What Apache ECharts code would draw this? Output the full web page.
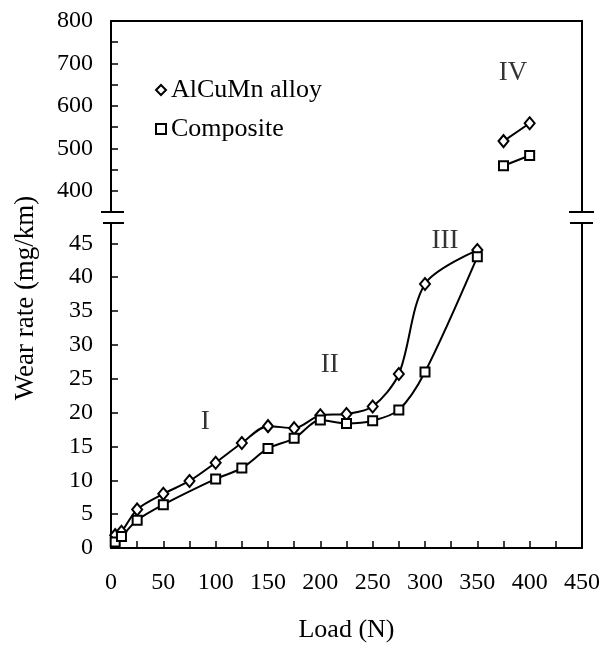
<!DOCTYPE html>
<html>
<head>
<meta charset="utf-8">
<script src="https://cdn.jsdelivr.net/npm/echarts@6/dist/echarts.min.js"></script>
<style>html,body{margin:0;padding:0;background:#fff}#c{width:614px;height:648px}</style>
</head>
<body>
<div id="c"></div>
<script>
// ---- data ----
var alloyLoads = [4, 10, 25, 50, 75, 100, 125, 150, 175, 200, 225, 250, 275, 300, 350];
var alloyWear  = [1.9, 2.4, 5.7, 8.0, 9.9, 12.6, 15.5, 18.0, 17.7, 19.6, 19.8, 20.9, 25.7, 39.0, 44.0];
var compLoads  = [4, 10, 25, 50, 100, 125, 150, 175, 200, 225, 250, 275, 300, 350];
var compWear   = [0.9, 1.7, 4.1, 6.4, 10.2, 11.8, 14.7, 16.2, 18.9, 18.4, 18.8, 20.4, 26.0, 43.0];
var highLoads  = [375, 400];
var alloyHigh  = [517, 559];
var compHigh   = [459, 483];
var seriesNames = ['AlCuMn alloy', 'Composite'];
var stageLabels = ['I', 'II', 'III'];
var stageX = [90, 209, 319];
var stageY = [18.6, 27.0, 45.3];
var stageHighLabels = ['IV'];
var stageHighX = [384];
var stageHighY = [677];

// ---- layout ----
var L = 111, R = 582, TOP = 21, BRK1 = 212, BRK2 = 223, BOT = 552;
var FONT = 'Liberation Serif';

function pairs(xs, ys) { return xs.map(function (x, i) { return [x, ys[i]]; }); }
function trio(xs, ys, ls) { return xs.map(function (x, i) { return [x, ys[i], ls[i]]; }); }

var chart = echarts.init(document.getElementById('c'), null, { renderer: 'canvas' });

var axisLine = { show: true, lineStyle: { color: '#000', width: 2 } };
var tickStyle = { show: true, inside: true, length: 7, lineStyle: { color: '#000', width: 1.5 } };
var labelBase = { color: '#000', fontFamily: FONT, fontSize: 24 };

var symStyle = { color: '#fff', borderColor: '#000', borderWidth: 2 };
var lineSt = { color: '#000', width: 2 };

function lineSeries(name, sym, size, x, y, data, smooth) {
  return {
    type: 'line', name: name, xAxisIndex: x, yAxisIndex: y, data: data,
    symbol: sym, symbolSize: size, showSymbol: true, smooth: smooth,
    itemStyle: symStyle, lineStyle: lineSt, z: 3, animation: false
  };
}

function textSeries(x, y, data) {
  return {
    type: 'scatter', xAxisIndex: x, yAxisIndex: y, data: data, symbolSize: 1,
    itemStyle: { color: 'rgba(0,0,0,0)' }, silent: true, animation: false,
    label: { show: true, position: 'inside', formatter: function (p) { return p.data[2]; },
             color: '#000', fontFamily: FONT, fontSize: 27 }
  };
}

var option = {
  backgroundColor: '#fff',
  animation: false,
  grid: [
    { left: L, width: R - L, top: TOP, height: BRK1 - TOP },
    { left: L, width: R - L, top: BRK2, height: BOT - BRK2 }
  ],
  xAxis: [
    { gridIndex: 0, type: 'value', position: 'top', min: 0, max: 450,
      axisLine: axisLine, axisTick: { show: false }, axisLabel: { show: false }, splitLine: { show: false } },
    { gridIndex: 1, type: 'value', position: 'bottom', min: 0, max: 450, interval: 25,
      axisLine: axisLine, axisTick: tickStyle, splitLine: { show: false },
      axisLabel: Object.assign({ margin: 23, formatter: function (v) { return v % 50 === 0 ? String(v) : ''; } }, labelBase),
      name: 'Load (N)', nameLocation: 'middle', nameGap: 69,
      nameTextStyle: { color: '#000', fontFamily: FONT, fontSize: 26 } }
  ],
  yAxis: [
    { gridIndex: 0, type: 'value', position: 'left', min: 350, max: 800, interval: 50,
      axisLine: axisLine, axisTick: tickStyle, splitLine: { show: false },
      axisLabel: Object.assign({ margin: 18, formatter: function (v) { return v % 100 === 0 ? String(v) : ''; } }, labelBase) },
    { gridIndex: 0, type: 'value', position: 'right', min: 350, max: 800,
      axisLine: axisLine, axisTick: { show: false }, axisLabel: { show: false }, splitLine: { show: false } },
    { gridIndex: 1, type: 'value', position: 'left', min: 0, max: 48, interval: 5,
      axisLine: axisLine, axisTick: tickStyle, splitLine: { show: false },
      axisLabel: Object.assign({ margin: 18, formatter: function (v) { return v % 5 === 0 ? String(v) : ''; } }, labelBase) },
    { gridIndex: 1, type: 'value', position: 'right', min: 0, max: 48,
      axisLine: axisLine, axisTick: { show: false }, axisLabel: { show: false }, splitLine: { show: false } }
  ],
  legend: {
    orient: 'vertical', left: 150, top: 72, itemGap: 13,
    itemWidth: 10, itemHeight: 10,
    textStyle: { color: '#000', fontFamily: FONT, fontSize: 26 },
    data: [
      { name: seriesNames[0], icon: 'diamond' },
      { name: seriesNames[1], icon: 'rect' }
    ]
  },
  series: [
    lineSeries(seriesNames[0], 'diamond', [10, 12], 1, 2, pairs(alloyLoads, alloyWear), 0.3),
    lineSeries(seriesNames[1], 'rect', 9, 1, 2, pairs(compLoads, compWear), 0.3),
    lineSeries(seriesNames[0], 'diamond', [10, 12], 0, 0, pairs(highLoads, alloyHigh), false),
    lineSeries(seriesNames[1], 'rect', 9, 0, 0, pairs(highLoads, compHigh), false),
    textSeries(1, 2, trio(stageX, stageY, stageLabels)),
    textSeries(0, 0, trio(stageHighX, stageHighY, stageHighLabels))
  ],
  graphic: [
    { type: 'line', shape: { x1: L - 10, y1: BRK1, x2: L + 13, y2: BRK1 }, style: { stroke: '#000', lineWidth: 2 } },
    { type: 'line', shape: { x1: L - 8, y1: BRK2, x2: L + 13, y2: BRK2 }, style: { stroke: '#000', lineWidth: 2 } },
    { type: 'line', shape: { x1: R - 13, y1: BRK1, x2: R + 12, y2: BRK1 }, style: { stroke: '#000', lineWidth: 2 } },
    { type: 'line', shape: { x1: R - 12, y1: BRK2, x2: R + 11, y2: BRK2 }, style: { stroke: '#000', lineWidth: 2 } },
    { type: 'text', x: 26, y: 298, rotation: Math.PI / 2,
      style: { text: 'Wear rate (mg/km)', fill: '#000', font: '27px "Liberation Serif"',
               textAlign: 'center', textVerticalAlign: 'middle' } }
  ]
};
chart.setOption(option);
</script>
</body>
</html>
